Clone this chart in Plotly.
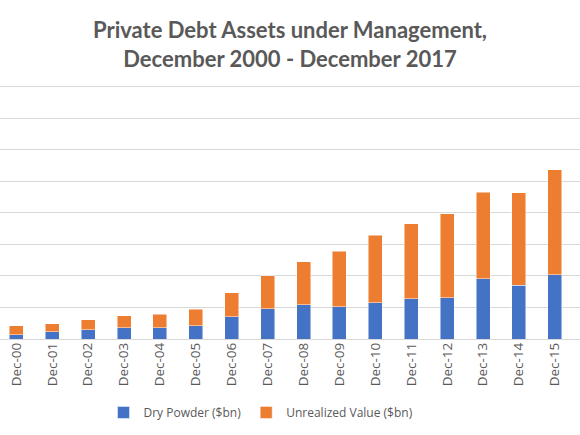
import plotly.graph_objects as go

categories = ["Dec-00", "Dec-01", "Dec-02", "Dec-03", "Dec-04", "Dec-05", "Dec-06", "Dec-07",
              "Dec-08", "Dec-09", "Dec-10", "Dec-11", "Dec-12", "Dec-13", "Dec-14", "Dec-15"]
totals = [42.5, 48.9, 61.6, 74.3, 78.4, 94.3, 146, 201, 244.4, 278.4, 328.3, 365, 396.8, 465.7, 463.5, 536.5]
dry_powder = [12.7, 22.2, 29.8, 36.2, 36.2, 41.3, 69.8, 95.2, 109.2, 102.9, 114.3, 127, 130.2, 190.5, 170.5, 203.2]
unrealized = [round(t - d, 1) for t, d in zip(totals, dry_powder)]
grid_values = [0, 100, 200, 300, 400, 500, 600, 700, 800]

TITLE_FONT = "Lato"
FONT = "Open Sans"
GRAY = "#595959"
GRID = "#D9D9D9"

fig = go.Figure()
fig.add_trace(go.Bar(x=categories, y=dry_powder, name="Dry Powder ($bn)",
                     marker=dict(color="#4472C4", line=dict(color="rgba(255,255,255,0.6)", width=0.8))))
fig.add_trace(go.Bar(x=categories, y=unrealized, name="Unrealized Value ($bn)",
                     marker=dict(color="#ED7D31", line=dict(color="rgba(255,255,255,0.6)", width=0.8))))

fig.update_layout(
    barmode="stack",
    bargap=0.61,
    width=580, height=435,
    paper_bgcolor="white", plot_bgcolor="white",
    margin=dict(l=0, r=0, t=77, b=96),
    title=dict(text="<b>Private Debt Assets under Management,<br>December 2000 - December 2017</b>",
               x=0.5, xanchor="center", y=0.912, yanchor="top",
               font=dict(family=TITLE_FONT, size=22, color=GRAY)),
    font=dict(family=FONT, color=GRAY),
    legend=dict(orientation="h", x=0.45, xanchor="center", y=-0.225, yanchor="top",
                font=dict(family=FONT, size=12, color=GRAY), traceorder="normal",
                itemwidth=30),
    xaxis=dict(range=[-0.454, 15.70], tickangle=-90, tickfont=dict(size=13.5, color=GRAY),
               showgrid=False, showline=False, ticks=""),
    yaxis=dict(range=[0, 830], tickvals=grid_values,
               showticklabels=False, showgrid=True,
               gridcolor=GRID, gridwidth=1, zeroline=True, zerolinecolor=GRID,
               zerolinewidth=1),
)
# make sure the top gridline is visible
fig.add_hline(y=grid_values[-1], line=dict(color=GRID, width=1), layer="below")

fig.write_html("out.html", config={"displayModeBar": False},
               post_script="document.body.style.margin='0px';")
